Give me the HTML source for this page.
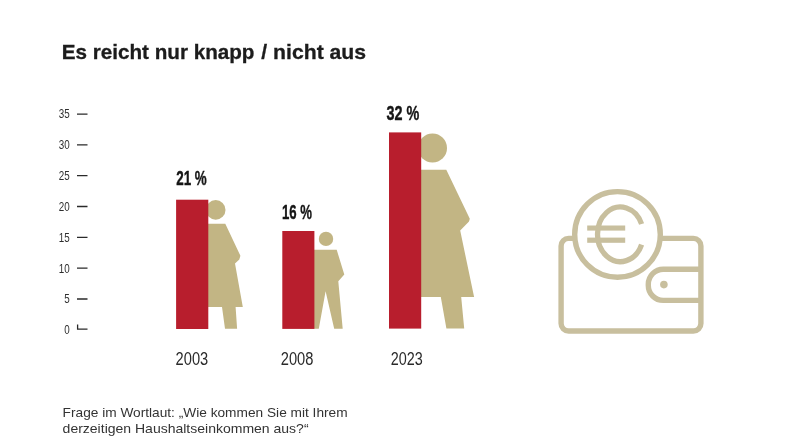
<!DOCTYPE html>
<html lang="de">
<head>
<meta charset="utf-8">
<title>Es reicht nur knapp / nicht aus</title>
<style>
html,body{margin:0;padding:0;background:#fff;}
body{width:793px;height:446px;overflow:hidden;}
svg{display:block;}
text{font-family:"Liberation Sans",sans-serif;}
.title{font-weight:bold;font-size:20.6px;fill:#1c1c1c;stroke:#1c1c1c;stroke-width:0.3;}
.foot{font-size:13px;fill:#333;}
.ax{font-size:12.3px;fill:#2e2e2e;}
.yr{font-size:18px;fill:#2a2a2a;}
.val{font-size:20px;font-weight:bold;fill:#161616;stroke:#161616;stroke-width:0.4;}
.tan{fill:#c2b584;}
.red{fill:#b81e2d;}
.tk{stroke:#2a2a2a;stroke-width:1.3;fill:none;}
.ws{stroke:#c8bf9e;stroke-width:5.4;fill:none;}
</style>
</head>
<body>
<svg width="793" height="446" viewBox="0 0 793 446">
<rect width="793" height="446" fill="#ffffff"/>

<text class="title" x="61.7" y="58.9" textLength="192.8" lengthAdjust="spacingAndGlyphs">Es reicht nur knapp</text>
<text class="title" x="261.3" y="58.9" textLength="104.8" lengthAdjust="spacingAndGlyphs">/ nicht aus</text>

<!-- axis -->
<g class="ax" text-anchor="end">
<text transform="translate(69.8,118.4) scale(0.8,1)">35</text>
<text transform="translate(69.8,149.2) scale(0.8,1)">30</text>
<text transform="translate(69.8,180.0) scale(0.8,1)">25</text>
<text transform="translate(69.8,210.8) scale(0.8,1)">20</text>
<text transform="translate(69.8,241.6) scale(0.8,1)">15</text>
<text transform="translate(69.8,272.5) scale(0.8,1)">10</text>
<text transform="translate(69.8,303.3) scale(0.8,1)">5</text>
<text transform="translate(69.8,333.5) scale(0.8,1)">0</text>
</g>
<g class="tk">
<path d="M77 114.1H87.5M77 144.9H87.5M77 175.7H87.5M77 206.5H87.5M77 237.3H87.5M77 268.2H87.5M77 299.0H87.5"/>
<path d="M77.6 324.5V329.1H87.5"/>
</g>

<!-- 2003 woman -->
<g class="tan">
<circle cx="215.7" cy="209.9" r="9.8"/>
<path d="M200 223.7H225.3L240.4 255.8L239.3 259.5L235 263.4L242.8 307H235.6L237.1 328.7H225L222 307H200Z"/>
</g>
<rect class="red" x="176.1" y="199.7" width="32.2" height="129.3"/>

<!-- 2008 man -->
<g class="tan">
<circle cx="326" cy="238.9" r="7.2"/>
<path d="M300 249.8H336.7L344.3 274.5L338.3 281.2L342.7 328.8H334.2L325.6 291.2L318.8 328.8H300Z"/>
</g>
<rect class="red" x="282.3" y="231" width="32.1" height="97.9"/>

<!-- 2023 woman -->
<g class="tan">
<circle cx="432.5" cy="148" r="14.5"/>
<path d="M400 169.7H446.3L469.8 218.7L469 221.6L460.2 230.6L474.1 297H461.2L464.2 328.5H446.4L440.8 297H400Z"/>
</g>
<rect class="red" x="389" y="132.4" width="32.2" height="196.2"/>

<!-- value labels -->
<g class="val">
<text x="176.2" y="184.6" textLength="30.6" lengthAdjust="spacingAndGlyphs">21 %</text>
<text x="282" y="218.6" textLength="30" lengthAdjust="spacingAndGlyphs">16 %</text>
<text x="386.6" y="120.3" textLength="32.8" lengthAdjust="spacingAndGlyphs">32 %</text>
</g>

<!-- years -->
<g class="yr">
<text x="175.6" y="365.4" textLength="32.6" lengthAdjust="spacingAndGlyphs">2003</text>
<text x="280.8" y="365.4" textLength="32.6" lengthAdjust="spacingAndGlyphs">2008</text>
<text x="390.8" y="365.4" textLength="32" lengthAdjust="spacingAndGlyphs">2023</text>
</g>

<!-- wallet -->
<g class="ws">
<rect x="561.1" y="238.4" width="139.8" height="92.6" rx="7.5" ry="7.5"/>
<path d="M700.9 269.3H663.3A15 15 0 0 0 648.3 284.3V285.4A15 15 0 0 0 663.3 300.4H700.9"/>
<circle cx="617.5" cy="234.4" r="42.8" fill="#ffffff"/>
<path d="M641.6 224A22.9 27.3 0 1 0 641.6 244.6" stroke-width="5.3"/>
</g>
<circle cx="663.9" cy="284.6" r="3.8" fill="#c8bf9e"/>
<rect x="587.2" y="225.5" width="38" height="5.1" fill="#c8bf9e"/>
<rect x="587.2" y="237.6" width="38" height="5.2" fill="#c8bf9e"/>

<!-- footnote -->
<g class="foot">
<text x="62.6" y="416.8" textLength="285" lengthAdjust="spacingAndGlyphs">Frage im Wortlaut: „Wie kommen Sie mit Ihrem</text>
<text x="62.6" y="433.3" textLength="246" lengthAdjust="spacingAndGlyphs">derzeitigen Haushaltseinkommen aus?“</text>
</g>
</svg>
</body>
</html>
